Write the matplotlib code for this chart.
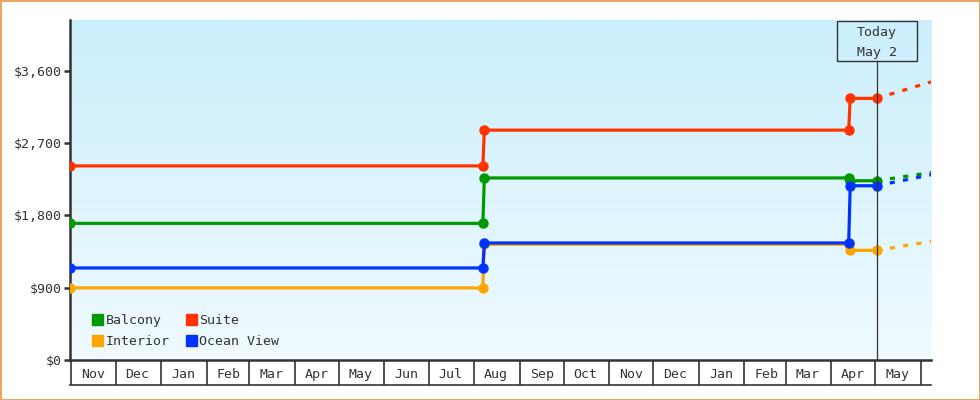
import numpy as np
import pandas as pd
import matplotlib
matplotlib.use("Agg")
import matplotlib.pyplot as plt
import matplotlib.dates as mdates
from matplotlib.colors import LinearSegmentedColormap
from matplotlib.patches import Rectangle, Patch
from matplotlib.ticker import FuncFormatter

plt.rcParams['font.family'] = ['DejaVu Sans Mono']

# price history: start, before step, after step, before step, after step, today
DATES = ["2023-10-31", "2024-08-07", "2024-08-08", "2025-04-13", "2025-04-14", "2025-05-02"]
TODAY = "2025-05-02"
FORECAST_END = "2025-06-08"

BALCONY = [1700, 1700, 2265, 2265, 2230, 2230]
SUITE = [2415, 2415, 2860, 2860, 3255, 3255]
OCEAN_VIEW = [1145, 1145, 1456, 1456, 2168, 2168]
INTERIOR = [897, 897, 1440, 1440, 1364, 1364]

# forecast value at the right edge
FORECAST = {"Balcony": 2333, "Suite": 3460, "Ocean View": 2305, "Interior": 1476}

COLORS = {"Balcony": "#009900", "Suite": "#ff3300",
          "Ocean View": "#0033ff", "Interior": "#ffa500"}

Y_TICKS = [0, 900, 1800, 2700, 3600]
DARK = "#333333"


def main():
    fig = plt.figure(figsize=(9.8, 4.0), dpi=100)
    ax = fig.add_axes([70 / 980, 40 / 400, 861 / 980, 340 / 400])

    # gradient background
    cmap = LinearSegmentedColormap.from_list("bg", ["#f0faff", "#cbeffc"])
    ax.imshow(np.linspace(0, 1, 256).reshape(-1, 1), extent=[0, 1, 0, 1],
              transform=ax.transAxes, aspect="auto", cmap=cmap,
              origin="lower", zorder=0)

    dates = pd.to_datetime(DATES)
    today = pd.Timestamp(TODAY)
    fend = pd.Timestamp(FORECAST_END)

    series = [("Interior", INTERIOR), ("Balcony", BALCONY),
              ("Ocean View", OCEAN_VIEW), ("Suite", SUITE)]
    for name, vals in series:
        c = COLORS[name]
        ax.plot(dates, vals, color=c, lw=2.3, marker="o", ms=6.5,
                mec=c, zorder=3, solid_capstyle="butt")
        ax.plot([today, fend], [vals[-1], FORECAST[name]], color=c, lw=2.3,
                dashes=(1.6, 2.6), dash_capstyle="butt", zorder=3)

    ax.set_xlim(pd.Timestamp("2023-10-31"), fend)
    ax.set_ylim(0, 4230)

    # today marker and box
    trans = ax.get_xaxis_transform()
    ax.plot([today, today], [0, 0.88], transform=trans, color=DARK, lw=0.9, zorder=4)
    half = pd.Timedelta(days=27.2)
    ax.add_patch(Rectangle((mdates.date2num(today - half), 0.88),
                           mdates.date2num(today + half) - mdates.date2num(today - half),
                           0.118, transform=trans, fill=False, ec=DARK, lw=1, zorder=4))
    ax.text(today, 0.934, "Today\nMay 2", transform=trans, ha="center", va="center",
            fontsize=9.5, color=DARK, linespacing=1.65, zorder=5)

    # y axis
    ax.set_yticks(Y_TICKS)
    ax.yaxis.set_major_formatter(FuncFormatter(lambda v, p: f"${v:,.0f}"))
    ax.tick_params(axis="y", length=4, width=1.8, color=DARK, pad=2,
                   labelsize=9.5, labelcolor=DARK)

    # x axis: month boxes
    ax.xaxis.set_major_locator(mdates.MonthLocator())
    ax.xaxis.set_major_formatter(plt.NullFormatter())
    ax.xaxis.set_minor_locator(mdates.MonthLocator(bymonthday=16))
    ax.xaxis.set_minor_formatter(mdates.DateFormatter("%b"))
    ax.tick_params(axis="x", which="major", length=18, width=1.2, color=DARK)
    ax.tick_params(axis="x", which="minor", length=0, pad=6,
                   labelsize=9.5, labelcolor=DARK)
    ax.plot([0, 1], [-25 / 340, -25 / 340], transform=ax.transAxes,
            color=DARK, lw=1.2, clip_on=False)

    for s in ["top", "right"]:
        ax.spines[s].set_visible(False)
    for s in ["left", "bottom"]:
        ax.spines[s].set_color(DARK)
        ax.spines[s].set_linewidth(1.8)

    handles = [Patch(color=COLORS[n]) for n in ["Balcony", "Interior", "Suite", "Ocean View"]]
    ax.legend(handles, ["Balcony", "Interior", "Suite", "Ocean View"], ncol=2,
              loc="lower left", bbox_to_anchor=(0.012, 0.0), frameon=False,
              fontsize=9.5, handlelength=0.85, handleheight=0.85, handletextpad=0.15,
              columnspacing=1.25, labelspacing=0.6, labelcolor=DARK)

    fig.add_artist(Rectangle((0.5 / 980, 0.5 / 400), 979 / 980, 399 / 400,
                             transform=fig.transFigure, fill=False,
                             ec="#e8a860", lw=1.5))

    fig.savefig("out.png", dpi=100)


if __name__ == "__main__":
    main()
